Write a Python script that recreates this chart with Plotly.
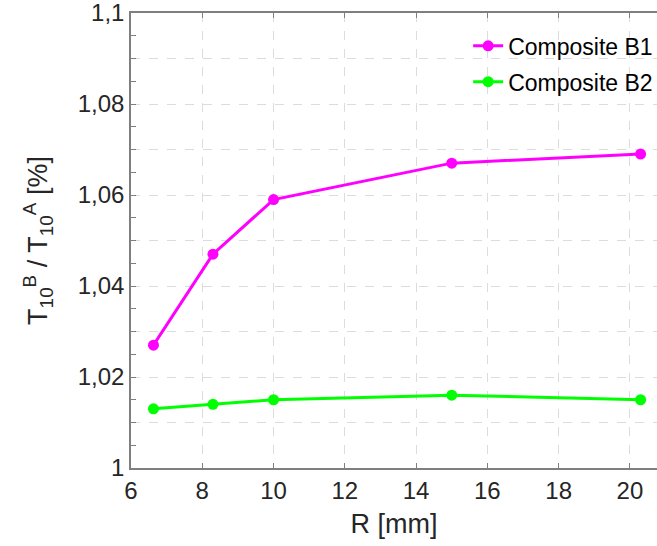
import plotly.graph_objects as go

R = [6.63, 8.3, 10, 15, 20.3]
b1 = [1.027, 1.047, 1.059, 1.067, 1.069]
b2 = [1.013, 1.014, 1.015, 1.016, 1.015]
names = ["Composite B1", "Composite B2"]
colors = ["#FF00FF", "#00FF00"]

y_ticks = [round(1 + 0.01 * i, 2) for i in range(11)]
y_text = []
for v in y_ticks:
    k = int(round((v - 1) * 100))
    if k % 2 == 0:
        s = ("%g" % v).replace(".", ",")
        y_text.append(s)
    else:
        y_text.append("")

fig = go.Figure()
for i, ys in enumerate([b1, b2]):
    fig.add_trace(go.Scatter(
        x=R, y=ys, mode="lines+markers", name=names[i],
        line=dict(color=colors[i], width=3),
        marker=dict(color=colors[i], size=11),
        legendgroup=names[i],
    ))

axis_color = "#7f7f7f"
fam = "Liberation Sans, Arial, sans-serif"
tick_font = dict(family=fam, size=24, color="#262626")
fig.update_layout(
    width=657, height=546,
    margin=dict(l=131, r=0, t=13, b=78, autoexpand=False),
    paper_bgcolor="white", plot_bgcolor="white",
    font=dict(family=fam, color="#262626"),
    legend=dict(x=0.641, y=0.975, xanchor="left", yanchor="top",
                font=dict(family=fam, size=23, color="#000000"),
                bgcolor="rgba(255,255,255,0)", traceorder="grouped",
                tracegroupgap=3),
    xaxis=dict(range=[6, 20.76], tickvals=[6, 8, 10, 12, 14, 16, 18, 20],
               ticks="inside", ticklen=5, tickcolor=axis_color,
               showline=True, linecolor=axis_color, linewidth=1.5, mirror="ticks",
               showgrid=True, gridcolor="#dcdcdc", griddash="dash", gridwidth=1,
               zeroline=False, tickfont=tick_font, ticklabeloverflow="allow",
               automargin=False,
               title=dict(text="R [mm]", font=dict(family=fam, size=27, color="#262626"),
                          standoff=12)),
    yaxis=dict(range=[1, 1.1], tickvals=y_ticks, ticktext=y_text,
               ticks="inside", ticklen=5, tickcolor=axis_color,
               showline=True, linecolor=axis_color, linewidth=1.5,
               showgrid=True, gridcolor="#dcdcdc", griddash="dash", gridwidth=1,
               zeroline=False, tickfont=tick_font, ticklabeloverflow="allow",
               automargin=False,
               minor=dict(dtick=0.005, tick0=1, ticks="inside", ticklen=5,
                          tickcolor=axis_color, showgrid=False),
               title=dict(text="T<sub>10</sub><sup>B</sup> / T<sub>10</sub><sup>A</sup> [%]",
                          font=dict(family=fam, size=27, color="#262626"), standoff=22)),
)

fig.write_html("out.html",
               config={"displayModeBar": False},
               post_script="document.body.style.margin='0px';document.body.style.overflow='hidden';")
